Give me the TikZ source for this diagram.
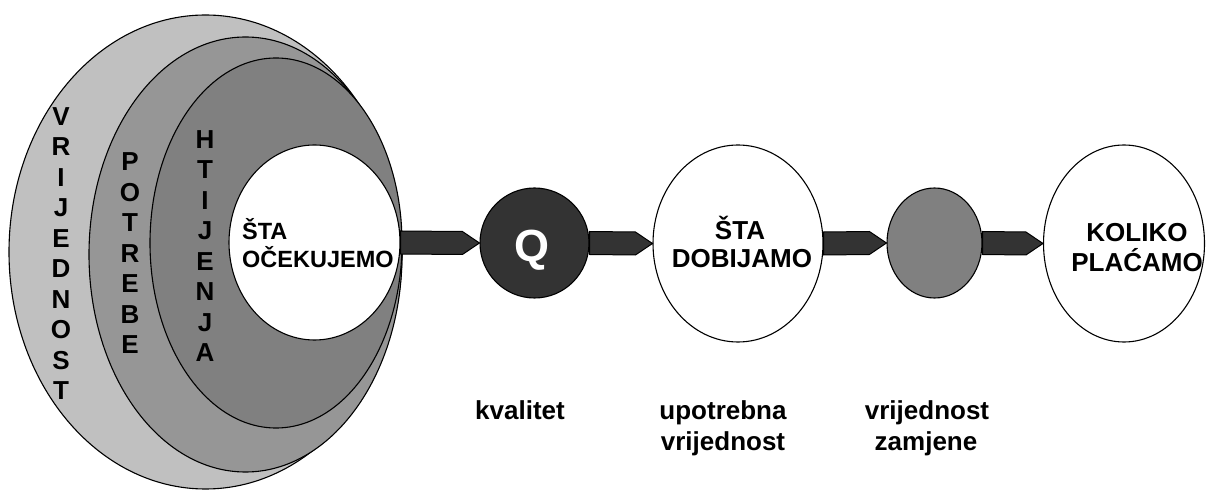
\documentclass[tikz,border=0pt]{standalone}
\usepackage{fontspec}
\setmainfont{Liberation Sans}
\usetikzlibrary{shapes.geometric,calc}
\definecolor{ring1}{HTML}{C0C0C0}
\definecolor{ring2}{HTML}{969696}
\definecolor{ring3}{HTML}{808080}
\definecolor{darkfill}{HTML}{333333}
\definecolor{midgray}{HTML}{808080}
\tikzset{
  blob/.style={ellipse, draw=black, line width=1.1pt, inner sep=0pt},
  bigtxt/.style={font=\bfseries\fontsize{26}{30.5}\selectfont, inner sep=0pt, align=center},
  midtxt/.style={font=\bfseries\fontsize{23.5}{28}\selectfont, inner sep=0pt},
  lowtxt/.style={font=\bfseries\fontsize{26}{31}\selectfont, inner sep=0pt},
  fatarrow/.style={draw=black, line width=1pt, fill=darkfill,
    to path={($(\tikztostart)+(0,11.5)$) -- ($(\tikztotarget)+(-17,11.5)$) -- (\tikztotarget)
      -- ($(\tikztotarget)+(-17,-11.5)$) -- ($(\tikztostart)+(0,-11.5)$) -- cycle}}
}
\begin{document}
\begin{tikzpicture}[x=1pt,y=1pt]
\useasboundingbox (0,0) rectangle (1206,490);
% nested ellipses
\node[blob, fill=ring1, minimum width=393pt, minimum height=474pt] (vr) at (205.5,238) {};
\node[blob, fill=ring2, minimum width=313pt, minimum height=435pt] (po) at (245.5,235.5) {};
\node[blob, fill=ring3, minimum width=252pt, minimum height=370pt] (ht) at (276,247) {};
\node[blob, fill=white, minimum width=171pt, minimum height=195pt] (ocek) at (314.5,247.5) {};
% vertical words
\node[bigtxt] (vrt) at (61,236.5) {V\\R\\I\\J\\E\\D\\N\\O\\S\\T};
\node[bigtxt] (pot) at (130,236.5) {P\\O\\T\\R\\E\\B\\E};
\node[bigtxt] (htt) at (205,244) {H\\T\\I\\J\\E\\N\\J\\A};
\node[midtxt, anchor=base west] (ocek1) at (242,250) {ŠTA};
\node[midtxt, anchor=base west] (ocek2) at (242,222) {OČEKUJEMO};
% chain
\node[blob, fill=darkfill, minimum width=109pt, minimum height=110pt] (q) at (534.5,247) {};
\node[font=\bfseries\fontsize{45}{50}\selectfont, text=white, inner sep=0pt, anchor=base] (qt) at (532,228) {Q};
\node[blob, fill=white, minimum width=170pt, minimum height=197pt] (dob) at (738,246.5) {};
\node[bigtxt, anchor=base] (dob1) at (740,250) {ŠTA};
\node[bigtxt, anchor=base] (dob2) at (742,222) {DOBIJAMO};
\node[blob, fill=midgray, minimum width=95pt, minimum height=110pt] (zam) at (934.5,247) {};
\node[blob, fill=white, minimum width=161pt, minimum height=197pt] (pla) at (1124,246.5) {};
\node[bigtxt, anchor=base] (pla1) at (1137,248) {KOLIKO};
\node[bigtxt, anchor=base] (pla2) at (1137,218) {PLAĆAMO};
% connectors
\draw[fatarrow] (ocek.east) to (q.west);
\draw[fatarrow] (q.east) to (dob.west);
\draw[fatarrow] (dob.east) to (zam.west);
\draw[fatarrow] (zam.east) to (pla.west);
% bottom labels
\node[lowtxt, anchor=base] (kv) at (520,71) {kvalitet};
\node[lowtxt, anchor=base] (up1) at (723,71) {upotrebna};
\node[lowtxt, anchor=base] (up2) at (723,40) {vrijednost};
\node[lowtxt, anchor=base] (vz1) at (927,71) {vrijednost};
\node[lowtxt, anchor=base] (vz2) at (926,40) {zamjene};
\end{tikzpicture}
\end{document}
